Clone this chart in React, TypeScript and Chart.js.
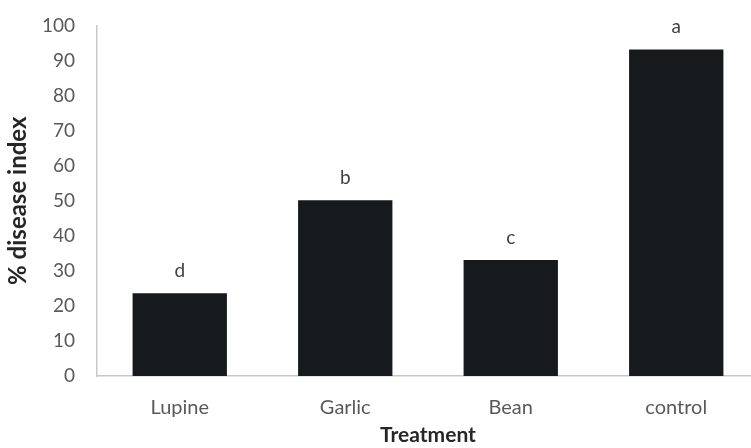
import React, { useEffect, useRef } from "react";
import { Chart, registerables } from "chart.js";

Chart.register(...registerables);

const categories = ["Lupine", "Garlic", "Bean", "control"];
const values = [23.6, 50.1, 33.1, 93.1];
const letters = ["d", "b", "c", "a"];
const yTitle = "% disease index";
const xTitle = "Treatment";

const FONT = "Lato, 'Open Sans', sans-serif";

const letterPlugin = {
  id: "letters",
  afterDatasetsDraw(chart: any) {
    const ctx = chart.ctx;
    const meta = chart.getDatasetMeta(0);
    ctx.save();
    ctx.fillStyle = "#404040";
    ctx.font = `19px ${FONT}`;
    ctx.textAlign = "center";
    ctx.textBaseline = "bottom";
    meta.data.forEach((bar: any, i: number) => {
      ctx.fillText(letters[i], bar.x, bar.y - 13);
    });
    ctx.restore();
  },
};

export default function App() {
  const ref = useRef<HTMLCanvasElement>(null);
  useEffect(() => {
    if (!ref.current) return;
    const chart = new Chart(ref.current, {
      type: "bar",
      data: {
        labels: categories,
        datasets: [
          {
            data: values,
            backgroundColor: "#161a1c",
            categoryPercentage: 1,
            barPercentage: 0.57,
          },
        ],
      },
      options: {
        responsive: false,
        animation: false,
        devicePixelRatio: 1,
        layout: { padding: { top: 23, right: 3, left: 0, bottom: 0 } },
        plugins: { legend: { display: false }, tooltip: { enabled: false } },
        scales: {
          x: {
            grid: { display: false },
            border: { display: true, color: "#c8c8c8", width: 1.5 },
            ticks: { color: "#595959", font: { family: FONT, size: 20 }, padding: 12 },
            title: {
              display: true,
              text: xTitle,
              color: "#262626",
              font: { family: FONT, size: 21, weight: "bold" },
              padding: { top: 0, bottom: 0 },
            },
            afterFit(scale: any) {
              scale.height = 72;
            },
          },
          y: {
            min: 0,
            max: 100,
            grid: { display: false },
            border: { display: true, color: "#c8c8c8", width: 1.5 },
            ticks: { stepSize: 10, color: "#595959", font: { family: FONT, size: 19 }, padding: 14 },
            title: {
              display: true,
              text: yTitle,
              color: "#262626",
              font: { family: FONT, size: 24, weight: "bold" },
              padding: { top: 4, bottom: 0 },
            },
            afterFit(scale: any) {
              scale.width = 97;
            },
          },
        },
      },
      plugins: [letterPlugin],
    });
    return () => chart.destroy();
  }, []);
  return (
    <div style={{ position: "fixed", left: 0, top: 0, width: 762, height: 448, background: "#fff" }}>
      <canvas ref={ref} width={762} height={448} style={{ display: "block" }} />
    </div>
  );
}
